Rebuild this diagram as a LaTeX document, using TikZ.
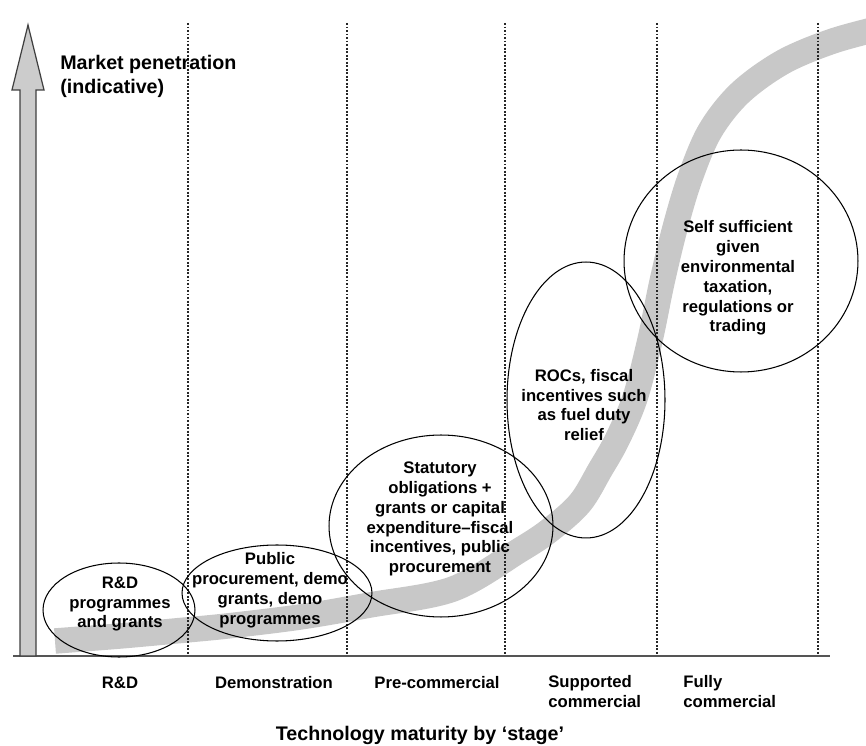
\documentclass[tikz,border=0pt]{standalone}
\usepackage{fontspec}
\setmainfont{Liberation Sans}
\usepackage{xcolor}
\definecolor{bandgrey}{RGB}{200,200,200}
\definecolor{axisgrey}{RGB}{85,85,85}
\usepackage{tikz}
\usetikzlibrary{shapes.geometric, positioning}
\newcommand{\bodyfont}{\fontsize{9.5}{11.3}\selectfont\bfseries}
\newcommand{\headfont}{\fontsize{11.2}{13.6}\selectfont\bfseries}

\begin{document}
\begin{tikzpicture}[x=0.02cm, y=-0.02cm,
        bubble/.style={ellipse, draw=black, line width=0.6pt, inner sep=0pt},
        bubbletext/.style={align=center, inner sep=0pt, font=\bodyfont},
        stagelabel/.style={inner sep=0pt, font=\bodyfont},
        divider/.style={draw=black!85, line width=0.7pt, dash pattern=on 1.1pt off 0.9pt},
        band/.style={draw=bandgrey, line width=14.5pt}]

        \useasboundingbox (0,0) rectangle (866,746);

        % S-curve of market penetration
        \draw[band] plot[smooth, tension=0.55] coordinates {(55,641) (120,636) (175,631) (227,626) (300,617) (370,605) (453,589) (520,550) (550,530) (580,503) (600,470) (617,440) (635,398) (650,340) (662,282) (675,228) (690,178) (710,131) (740,93) (783,62) (833,41) (885,27)};

        % Stage dividers
        \foreach \x in {188, 347, 505, 657, 818}
            \path[divider] (\x,23) -- (\x,656);

        % Axes
        \draw[axisgrey, line width=1.2pt] (13,656) -- (830,656);
        \draw[fill=black!20, draw=black!75, line width=0.7pt] (20,656) -- (20,90) -- (12,90) -- (28,25) -- (44,90) -- (36,90) -- (36,656) -- cycle;
        \node[anchor=north west, align=left, inner sep=0pt, font=\headfont] (ylabel) at (60,55) {Market penetration\\(indicative)};

        % Support bubbles
        \node[bubble, minimum width=3.04cm, minimum height=1.88cm] (rd) at (119,610) {};
        \node[bubble, minimum width=3.8cm, minimum height=1.92cm] (demo) at (277,593) {};
        \node[bubble, minimum width=4.48cm, minimum height=3.64cm] (precom) at (441,526) {};
        \node[bubble, minimum width=3.16cm, minimum height=5.52cm] (supcom) at (586,400) {};
        \node[bubble, minimum width=4.68cm, minimum height=4.44cm] (fullcom) at (741,261) {};

        \node[bubbletext] (rd-t) at (120,604) {R\&D\\programmes\\and grants};
        \node[bubbletext] (demo-t) at (270,590) {Public\\procurement, demo\\grants, demo\\programmes};
        \node[bubbletext] (precom-t) at (440,519) {Statutory\\obligations +\\grants or capital\\expenditure--fiscal\\incentives, public\\procurement};
        \node[bubbletext] (supcom-t) at (584,405) {ROCs, fiscal\\incentives such\\as fuel duty\\relief};
        \node[bubbletext] (fullcom-t) at (738,278) {Self sufficient\\given\\environmental\\taxation,\\regulations or\\trading};

        % Stage labels
        \node[stagelabel, anchor=base] (s1) at (120,688) {R\&D};
        \node[stagelabel, anchor=base] (s2) at (274,688) {Demonstration};
        \node[stagelabel, anchor=base] (s3) at (437,688) {Pre-commercial};
        \node[stagelabel, anchor=north west, align=left] (s4) at (548,675) {Supported\\commercial};
        \node[stagelabel, anchor=north west, align=left] (s5) at (683,675) {Fully\\commercial};
        \node[anchor=base, inner sep=0pt, font=\headfont] (xlabel) at (420,740) {Technology maturity by `stage'};
    \end{tikzpicture}
\end{document}
